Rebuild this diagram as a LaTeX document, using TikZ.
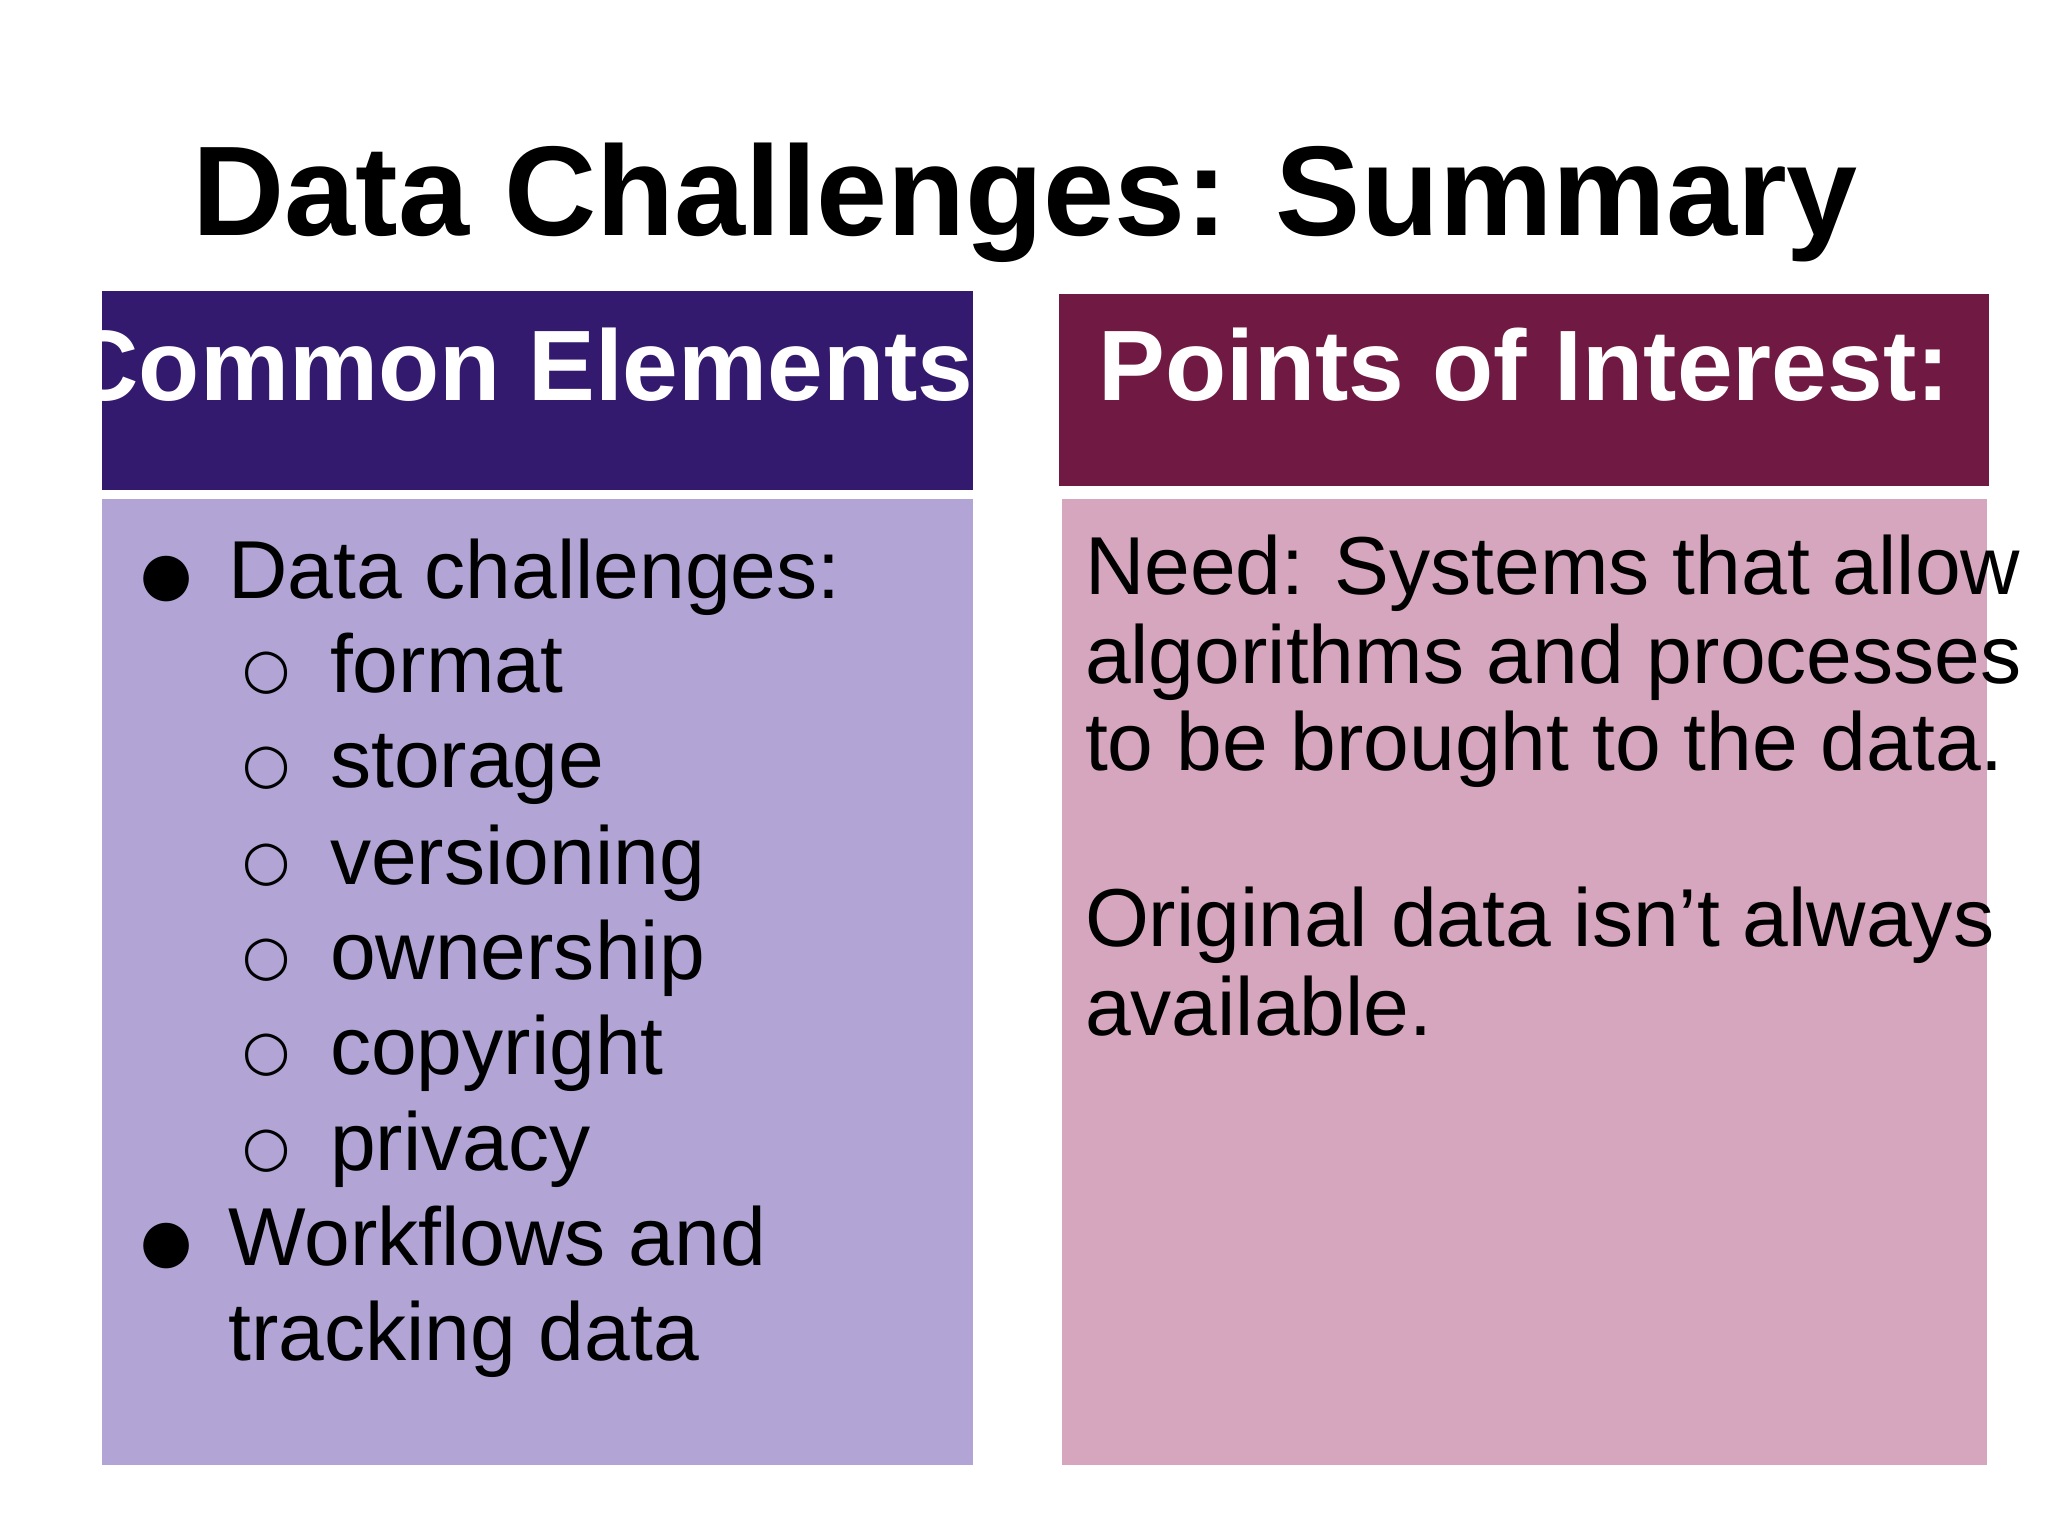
\documentclass[tikz,border=0pt]{standalone}
\usepackage{fontspec}
\setmainfont{Liberation Sans}
\newfontfamily\symf{DejaVu Sans}
\definecolor{hdA}{HTML}{341A6E}
\definecolor{bdA}{HTML}{B2A5D6}
\definecolor{hdB}{HTML}{701A43}
\definecolor{bdB}{HTML}{D6A5BE}
\tikzset{px/.style={x=0.01cm,y=-0.01cm},
 bodytxt/.style={anchor=base west,inner sep=0pt,font=\fontsize{17.9pt}{21pt}\selectfont},
 hdtxt/.style={anchor=base,inner sep=0pt,text=white,font=\bfseries\fontsize{21.8pt}{24pt}\selectfont}}
\begin{document}
\begin{tikzpicture}[px]
\useasboundingbox[fill=white] (0,0) rectangle (1568,1176);
\node[anchor=base,inner sep=0pt,font=\bfseries\fontsize{27.8pt}{30pt}\selectfont] (title) at (785,180) {Data Challenges: Summary};
\fill[hdA] (78,223) rectangle (745,375);
\fill[bdA] (78,382) rectangle (745,1122);
\fill[hdB] (811,225) rectangle (1523,372);
\fill[bdB] (813,382) rectangle (1521,1122);
\node[hdtxt] (h1) at (411,307) {Common Elements:};
\node[hdtxt] (h2) at (1167,307) {Points of Interest:};
% left list
\node[bodytxt,font=\symf\fontsize{13pt}{15pt}\selectfont] (b1) at (107,455) {●};
\node[bodytxt] (t1) at (174,458) {Data challenges:};
\foreach \y/\w [count=\i] in {530/format,603/storage,677/versioning,750/ownership,823/copyright,896/privacy}{
 \node[bodytxt,font=\symf\fontsize{12pt}{14pt}\selectfont] (s\i) at (185,526) [yshift={-(\y-530)*0.01cm}] {○};
 \node[bodytxt] (w\i) at (252,\y) {\w};
}
\node[bodytxt,font=\symf\fontsize{13pt}{15pt}\selectfont] (b2) at (107,966) {●};
\node[bodytxt] (t2) at (174,969) {Workflows and};
\node[bodytxt] (t3) at (174,1042) {tracking data};
% right text
\node[bodytxt] (r1) at (830,455) {Need: Systems that allow};
\node[bodytxt] (r2) at (830,523) {algorithms and processes};
\node[bodytxt] (r3) at (830,590) {to be brought to the data.};
\node[bodytxt] (r4) at (830,725) {Original data isn’t always};
\node[bodytxt] (r5) at (830,793) {available.};
\end{tikzpicture}
\end{document}
